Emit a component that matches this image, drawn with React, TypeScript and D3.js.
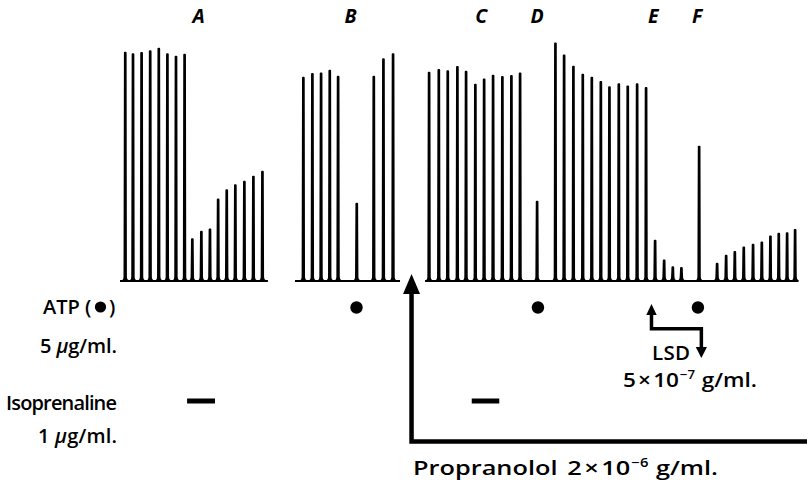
import React from "react";
import * as d3 from "d3";

// Time (stimulus intervals) and contraction amplitude (% of max)
const traceATimes = [0.6, 1.5, 2.5, 3.5, 4.5, 5.5, 6.5, 7.5, 8.4, 9.45, 10.45, 11.4, 12.4, 13.4, 14.45, 15.5, 16.55];
const traceAAmps = [95.1, 94.5, 95, 95.8, 96.8, 94.5, 93.5, 94.3, 17.4, 20.5, 21.5, 34, 37.8, 39.9, 41.4, 43.5, 45.5];

const traceBTimes = [21.31, 22.36, 23.37, 24.38, 25.35, 27.52, 29.5, 30.62, 31.74];
const traceBAmps = [84.7, 86.3, 86.5, 87.6, 85.1, 32.2, 85.1, 92.4, 94.5];

const traceCTimes = [35.93, 37.06, 38.1, 39.22, 40.23, 41.31, 42.33, 43.37, 44.45, 45.5, 46.51, 48.49,
  50.62, 51.63, 52.71, 53.8, 54.85, 55.9, 56.9, 57.99, 59.03, 60.12, 61.16, 62.21, 63.26, 64.27, 65.27,
  67.33, 69.42, 70.47, 71.48, 72.52, 73.6, 74.62, 75.62, 76.59, 77.56, 78.49];
const traceCAmps = [86.8, 87.9, 87.4, 89.2, 87.2, 81.8, 84, 85.5, 85, 85.4, 86.5, 33,
  99, 94, 89.3, 86, 84.7, 82.9, 80.7, 82, 81.1, 82, 80.4, 16.8, 8.6, 5.7, 5.4,
  56, 7.2, 10.5, 12.1, 14, 15.1, 16.1, 18.6, 19.7, 19.9, 21.3];

const traceStarts = [0, 20.35, 35.47];
const traceEnds = [17.2, 32.56, 78.84];

const letterLabels = ["A", "B", "C", "D", "E", "F"];
const letterTimes = [9.15, 26.8, 42, 48.5, 62, 67.1];

const atpTimes = [27.5, 48.6, 67.2];
const isoStarts = [7.8, 40.9];
const isoEnds = [11.05, 44.1];
const propranololTime = 33.9;
const lsdOnTime = 61.8;
const lsdOffTime = 67.6;

const W = 807;
const H = 480;

const x = d3.scaleLinear().domain([0, 80]).range([120, 808]);
const y = d3.scaleLinear().domain([0, 100]).range([281, 41]);

const FONT = "'Open Sans', 'DejaVu Sans', sans-serif";

export default function App() {
  const traces = [
    { t: traceATimes, a: traceAAmps },
    { t: traceBTimes, a: traceBAmps },
    { t: traceCTimes, a: traceCAmps },
  ];
  const base = y(0);
  const px = x(propranololTime);
  const lsdA = x(lsdOnTime);
  const lsdB = x(lsdOffTime);
  const tri = (cx: number, tip: number, baseY: number, hw: number) =>
    `M ${cx} ${tip} L ${cx - hw} ${baseY} L ${cx + hw} ${baseY} Z`;

  return (
    <svg width={W} height={H} style={{ position: "absolute", left: 0, top: 0, background: "#fff" }}
      fontFamily={FONT}>
      <rect width={W} height={H} fill="#fff" />
      {/* baselines */}
      {traceStarts.map((s, i) => (
        <line key={"b" + i} x1={x(s)} x2={x(traceEnds[i])} y1={base} y2={base} stroke="#000" strokeWidth={2.2} />
      ))}
      {/* spikes */}
      {traces.map((tr, i) =>
        tr.t.map((t, j) => {
          const cx = x(t);
          const top = y(tr.a[j]);
          const d = `M ${cx - 2.6} ${base} Q ${cx - 0.8} ${base - 0.8} ${cx - 0.7} ${base - 4} L ${cx - 0.3} ${top} L ${cx + 0.5} ${top} L ${cx + 0.8} ${base - 4} Q ${cx + 0.9} ${base - 0.8} ${cx + 2.8} ${base} Z`;
          return (
            <path key={`s${i}-${j}`} d={d}
              fill="#000" stroke="#000" strokeWidth={1.9} strokeLinejoin="round" />
          );
        })
      )}
      {/* letter labels */}
      {letterLabels.map((l, i) => (
        <text key={l} x={x(letterTimes[i])} y={23} textAnchor="middle" fontSize={19.5}
          fontStyle="italic" fontWeight={700}>{l}</text>
      ))}
      {/* ATP dots */}
      {atpTimes.map((t, i) => (
        <circle key={"d" + i} cx={x(t)} cy={307.5} r={6.2} fill="#000" />
      ))}
      {/* Isoprenaline bars */}
      {isoStarts.map((s, i) => (
        <line key={"i" + i} x1={x(s)} x2={x(isoEnds[i])} y1={401} y2={401} stroke="#000" strokeWidth={5} />
      ))}
      {/* Propranolol arrow */}
      <path d={`M ${px} 290 V 441.5 H ${W}`} fill="none" stroke="#000" strokeWidth={4.5} />
      <path d={tri(px, 274, 294, 8.5)} fill="#000" />
      {/* LSD arrow */}
      <path d={`M ${lsdA} 313 V 328.7 H ${lsdB} V 349`} fill="none" stroke="#000" strokeWidth={3.5} />
      <path d={tri(lsdA, 304, 315, 5.2)} fill="#000" />
      <path d={tri(lsdB, 358, 347, 5.6)} fill="#000" />

      {/* left texts */}
      <g fontWeight={600} fontSize={20}>
        <text x={43} y={314}>ATP (</text>
        <circle cx={100.5} cy={307} r={5.6} fill="#000" />
        <text x={109} y={314}>)</text>
        <text x={40} y={353} textLength={77} lengthAdjust="spacing">5 <tspan fontStyle="italic">μ</tspan>g/ml.</text>
        <text x={6} y={410} textLength={111} lengthAdjust="spacing">Isoprenaline</text>
        <text x={38} y={443} textLength={79} lengthAdjust="spacing">1 <tspan fontStyle="italic">μ</tspan>g/ml.</text>
      </g>
      <g fontWeight={600} fontSize={20.5}>
        <text x={652} y={360} textLength={38} lengthAdjust="spacing">LSD</text>
        <text x={623} y={387} textLength={134} lengthAdjust="spacingAndGlyphs">5<tspan dx={2}>×</tspan><tspan dx={2}>10</tspan><tspan fontSize={12} dy={-8} dx={1}>−7</tspan><tspan dy={8} dx={6}>g/ml.</tspan></text>
        <text x={413} y={475} textLength={305} lengthAdjust="spacingAndGlyphs">Propranolol<tspan dx={8}>2</tspan><tspan dx={2}>×</tspan><tspan dx={2}>10</tspan><tspan fontSize={12} dy={-8} dx={1}>−6</tspan><tspan dy={8} dx={6}>g/ml.</tspan></text>
      </g>
    </svg>
  );
}
